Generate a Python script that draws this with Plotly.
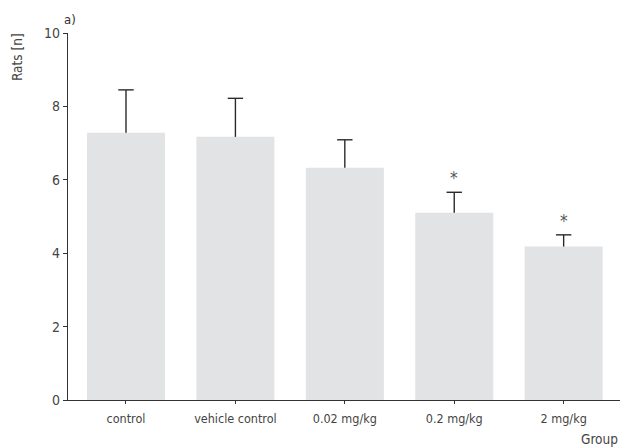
import plotly.graph_objects as go

categories = ["control", "vehicle control", "0.02 mg/kg", "0.2 mg/kg", "2 mg/kg"]
means = [7.28, 7.17, 6.33, 5.10, 4.18]
errors = [1.17, 1.05, 0.76, 0.56, 0.32]
significant = [False, False, False, True, True]
y_ticks = [0, 2, 4, 6, 8, 10]

FONT = "DejaVu Sans Condensed, Liberation Sans Narrow, Arial Narrow, sans-serif"
ERR = "#2a2a2a"
x_idx = list(range(len(categories)))
tops = [m + e for m, e in zip(means, errors)]

fig = go.Figure()
fig.add_trace(go.Bar(
    x=x_idx, y=means,
    marker=dict(color="#e2e3e5", line=dict(width=0)),
    error_y=dict(type="data", array=errors, symmetric=False, arrayminus=[0] * len(errors),
                 color=ERR, thickness=1.4, width=0),
    showlegend=False, hoverinfo="skip",
))
# caps of the error bars (top only)
fig.add_trace(go.Scatter(
    x=x_idx, y=tops, mode="markers",
    marker=dict(symbol="line-ew-open", size=11, color=ERR, line=dict(color=ERR, width=1.4)),
    showlegend=False, hoverinfo="skip",
))

for i, (t, s) in enumerate(zip(tops, significant)):
    if s:
        fig.add_annotation(x=i, y=t, text="*", showarrow=False, yanchor="bottom",
                           yshift=2, font=dict(family=FONT, size=17, color="#555555"))

fig.add_annotation(xref="paper", yref="paper", x=-0.01, y=1.0, text="a)", showarrow=False,
                   xanchor="left", yanchor="bottom", yshift=4,
                   font=dict(family=FONT, size=13, color="#333333"))
fig.add_annotation(xref="paper", yref="paper", x=-0.092, y=0.935, text="Rats [n]", showarrow=False,
                   textangle=-90, xanchor="center", yanchor="middle",
                   font=dict(family=FONT, size=13.5, color="#444444"))
fig.add_annotation(xref="paper", yref="paper", x=1.0, y=0, text="Group", showarrow=False,
                   xanchor="right", yanchor="top", yshift=-29,
                   font=dict(family=FONT, size=13.5, color="#444444"))

fig.update_layout(
    width=620, height=448,
    margin=dict(l=68, r=0, t=33, b=48),
    paper_bgcolor="white", plot_bgcolor="white",
    bargap=0.287,
    font=dict(family=FONT, size=12, color="#444444"),
    xaxis=dict(range=[-0.53, 4.515], tickvals=x_idx, ticktext=categories,
               showline=True, linecolor="#333333", linewidth=1.3, ticks="outside",
               ticklen=3, tickcolor="#333333", showgrid=False, zeroline=False,
               ticklabelstandoff=4,
               tickfont=dict(family=FONT, size=12.5, color="#444444")),
    yaxis=dict(range=[0, 10], tickvals=y_ticks, showline=True, linecolor="#333333",
               linewidth=1.3, ticks="outside", ticklen=4, tickcolor="#333333",
               showgrid=False, zeroline=False,
               tickfont=dict(family=FONT, size=14, color="#444444")),
)

fig.write_html("out.html", config={"displayModeBar": False},
               post_script="document.body.style.margin='0';")
